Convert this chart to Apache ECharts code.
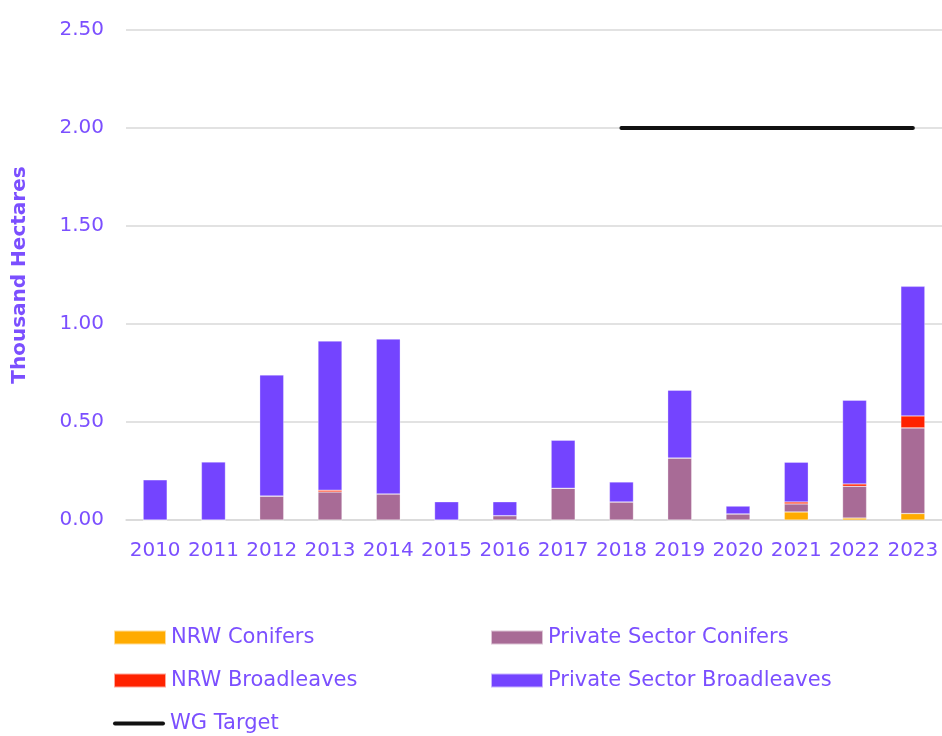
<!DOCTYPE html>
<html>
<head>
<meta charset="utf-8">
<script src="https://cdn.jsdelivr.net/npm/echarts@6/dist/echarts.min.js"></script>
<style>html,body{margin:0;padding:0;background:#fff}#c{width:942px;height:736px}</style>
</head>
<body>
<div id="c"></div>
<script>
const years = ['2010','2011','2012','2013','2014','2015','2016','2017','2018','2019','2020','2021','2022','2023'];
const nrwConifers = [0,0,0,0,0,0,0,0,0,0,0,0.041,0.010,0.033];
const privateConifers = [0,0,0.122,0.143,0.133,0,0.022,0.162,0.092,0.316,0.031,0.041,0.162,0.437];
const nrwBroadleaves = [0,0,0,0.009,0,0,0,0,0,0,0,0.010,0.012,0.061];
const privateBroadleaves = [0.205,0.296,0.618,0.761,0.790,0.093,0.071,0.245,0.102,0.346,0.040,0.203,0.427,0.661];
const wgTarget = [null,null,null,null,null,null,null,null,2,2,2,2,2,2];
const yTicks = [0,0.5,1,1.5,2,2.5];

const purple = '#7b4fff';
const font = 'DejaVu Sans';
const chart = echarts.init(document.getElementById('c'), null, {renderer:'canvas'});
const barStyle = (c) => ({color:c, borderColor:'rgba(255,255,255,0.6)', borderWidth:0.5});
const legendBase = {itemWidth:52, itemHeight:14, textStyle:{color:purple, fontSize:21, fontFamily:font}, icon:'rect', selectedMode:false};
chart.setOption({
  animation:false,
  grid:{left:126, right:-2, top:30, bottom:216},
  legend:[
    Object.assign({left:108, top:622, data:['NRW Conifers']}, legendBase),
    Object.assign({left:485, top:622, data:['Private Sector Conifers']}, legendBase),
    Object.assign({left:108, top:665, data:['NRW Broadleaves']}, legendBase),
    Object.assign({left:485, top:665, data:['Private Sector Broadleaves']}, legendBase),
    Object.assign({}, legendBase, {left:108, top:708, data:[{name:'WG Target', icon:'path://M2,0 L50,0 A2,2 0 0 1 50,4 L2,4 A2,2 0 0 1 2,0 Z'}], itemHeight:5})
  ],
  xAxis:{
    type:'category', data:years,
    axisLine:{lineStyle:{color:'#d9d9d9', width:1.5}},
    axisTick:{show:false},
    axisLabel:{color:purple, fontSize:20, fontFamily:font, margin:21, interval:0}
  },
  yAxis:{
    type:'value', min:yTicks[0], max:yTicks[yTicks.length-1], interval:0.5,
    name:'Thousand Hectares', nameLocation:'middle', nameGap:96,
    nameTextStyle:{color:purple, fontSize:20, fontWeight:'bold', fontFamily:font},
    axisLine:{show:false}, axisTick:{show:false},
    axisLabel:{color:purple, fontSize:20, fontFamily:font, margin:22, formatter:v=>v.toFixed(2)},
    splitLine:{lineStyle:{color:'#d9d9d9', width:1.5}}
  },
  series:[
    {name:'NRW Conifers', type:'bar', stack:'a', data:nrwConifers, barWidth:24, itemStyle:barStyle('#ffab00')},
    {name:'Private Sector Conifers', type:'bar', stack:'a', data:privateConifers, barWidth:24, itemStyle:barStyle('#a86b96')},
    {name:'NRW Broadleaves', type:'bar', stack:'a', data:nrwBroadleaves, barWidth:24, itemStyle:barStyle('#ff2200')},
    {name:'Private Sector Broadleaves', type:'bar', stack:'a', data:privateBroadleaves, barWidth:24, itemStyle:barStyle('#7444ff')},
    {name:'WG Target', type:'line', data:wgTarget, symbol:'none', lineStyle:{color:'#111', width:4, cap:'round'}, itemStyle:{color:'#111'}}
  ]
});
</script>
</body>
</html>
